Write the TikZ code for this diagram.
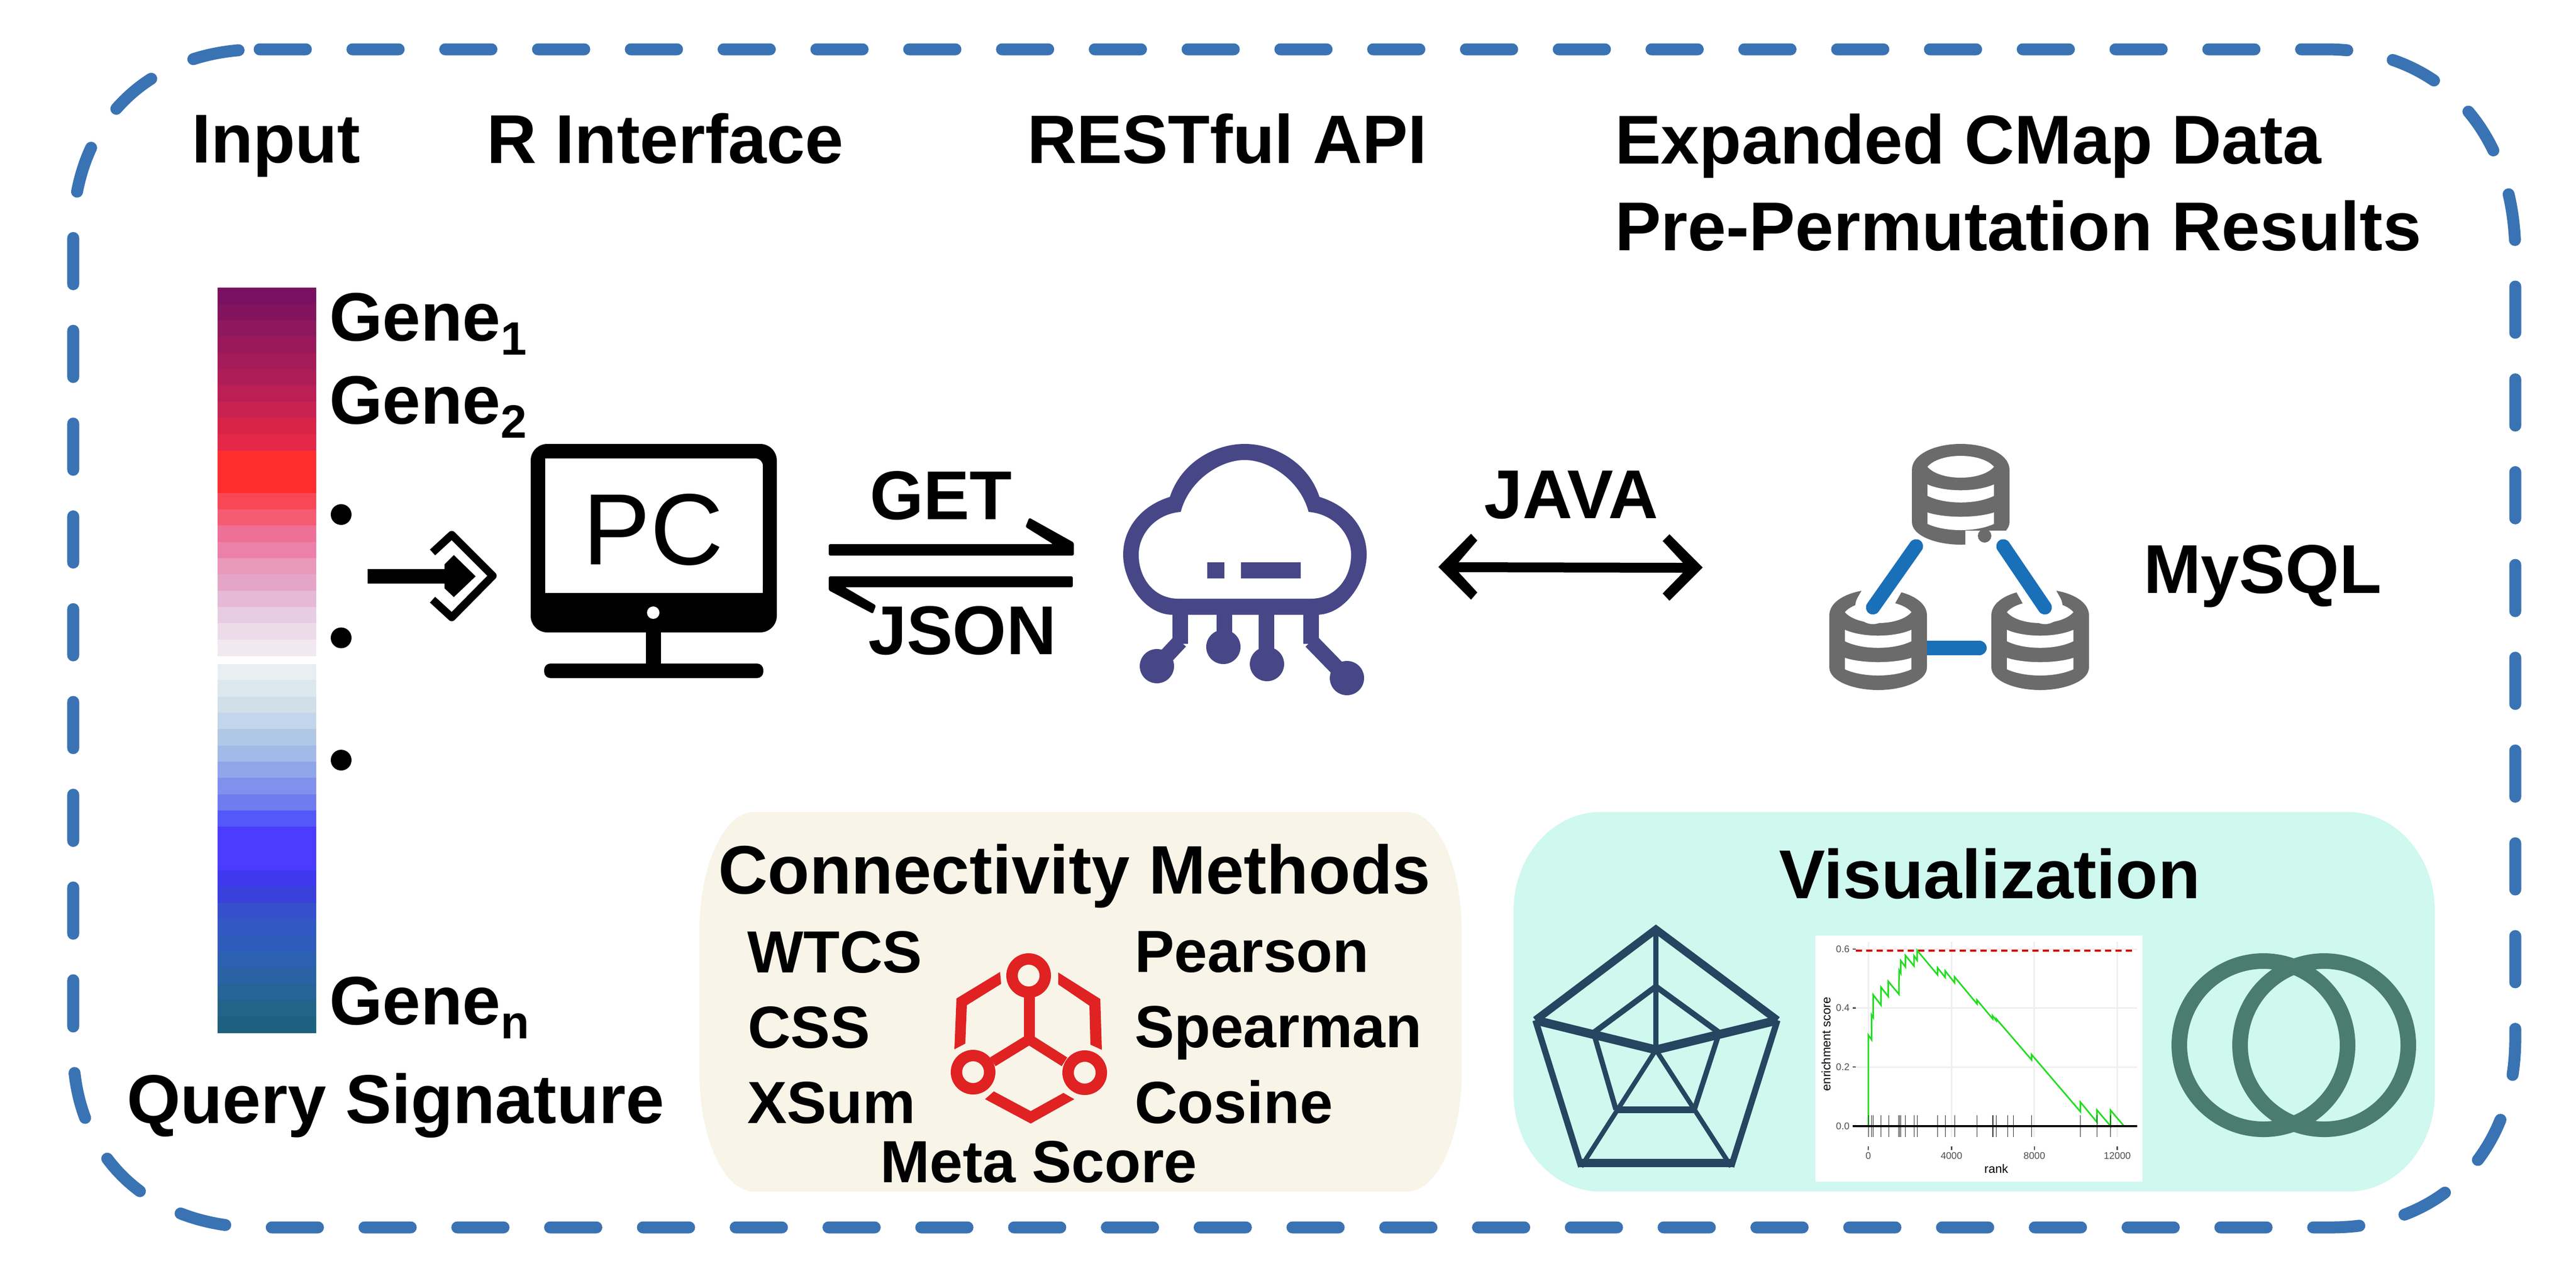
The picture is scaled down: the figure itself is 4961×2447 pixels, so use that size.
\documentclass[tikz,border=0pt]{standalone}
\usepackage{fontspec}
\setmainfont{Liberation Sans}
\definecolor{bordc}{HTML}{3A73B3}
\definecolor{cloudc}{HTML}{474787}
\definecolor{dbgray}{HTML}{6B6B6B}
\definecolor{dbblue}{HTML}{1A6FB9}
\definecolor{iconred}{HTML}{E02222}
\definecolor{radarc}{HTML}{264560}
\definecolor{vennc}{HTML}{4A7C6F}
\definecolor{panelA}{HTML}{F8F4E8}
\definecolor{panelB}{HTML}{CFF8EE}
\definecolor{gridc}{HTML}{EFEFEF}
\definecolor{tickc}{HTML}{4D4D4D}
\definecolor{greenc}{HTML}{22DD22}
\tikzset{
  lab/.style={inner sep=0pt,outer sep=0pt,anchor=base west,font=\fontsize{37.85}{45}\selectfont\bfseries,text=black},
  labc/.style={inner sep=0pt,outer sep=0pt,anchor=base west,font=\fontsize{37.56}{45}\selectfont\bfseries,text=black},
  labs/.style={inner sep=0pt,outer sep=0pt,anchor=base west,font=\fontsize{32.55}{38}\selectfont\bfseries,text=black},
  tick/.style={inner sep=0pt,outer sep=0pt,font=\fontsize{5.3}{6}\selectfont,text=tickc},
  axl/.style={inner sep=0pt,outer sep=0pt,font=\fontsize{6.7}{8}\selectfont,text=black},
}
\newcommand{\gsub}[1]{\raisebox{-0.27cm}{\fontsize{25.6}{30}\selectfont #1}}
\begin{document}
\begin{tikzpicture}[x=0.01cm,y=-0.01cm]
\useasboundingbox (0,0) rectangle (4961,2447);
\fill[white] (0,0) rectangle (4961,2447);

% dashed frame
\draw[bordc,line width=.23cm,line cap=round,dash pattern=on .89cm off .896cm]
 (500,95) -- (4480,95) .. controls (4698,95) and (4844,253) .. (4844,490)
 -- (4844,2000) .. controls (4844,2218) and (4702,2364) .. (4490,2364)
 -- (500,2364) .. controls (285,2364) and (141,2226) .. (141,2020)
 -- (141,450) .. controls (141,237) and (285,95) .. (500,95);

% heading texts
\node[lab] (tInput) at (369,313) {Input};
\node[lab] (tR) at (937,314) {R Interface};
\node[labc] (tAPI) at (1978,314) {RESTful API};
\node[lab] (tExp) at (3110,315) {Expanded CMap Data};
\node[lab] (tPre) at (3110,482) {Pre-Permutation Results};

% heat bar
\foreach \c [count=\i from 0] in {7A1160,82145F,8E185E,99195C,A41B5A,AE1D58,BB1F55,C82250,D82547,E3284A}{
  \definecolor{bandc}{HTML}{\c}
  \fill[bandc] (419,{554.4+\i*31.33}) rectangle (609,{554.4+(\i+1)*31.33+.6});}
\fill[color={rgb,255:red,255;green,45;blue,45}] (419,867.7) rectangle (609,950.4);
\foreach \c [count=\i from 0] in {F84858,F55C74,EE7096,EC80A8,E898B8,E4A6C6,E4BAD6,E8CCE2,ECDCE9,F2E8F0}{
  \definecolor{bandc}{HTML}{\c}
  \fill[bandc] (419,{949.8+\i*31.33}) rectangle (609,{949.8+(\i+1)*31.33+.6});}
\foreach \c [count=\i from 0] in {E8EEF2,DDE7EE,D0DFE8,C2D5EA,B0C8E6,A2BAE8,90A6EA,8090EC,6F7CF0,5458F8}{
  \definecolor{bandc}{HTML}{\c}
  \fill[bandc] (419,{1279+\i*31.33}) rectangle (609,{1279+(\i+1)*31.33+.6});}
\fill[color={rgb,255:red,75;green,60;blue,255}] (419,1592) rectangle (609,1676.6);
\foreach \c [count=\i from 0] in {3E38EE,3A40DC,3650CC,3258C4,2E5CBC,2C60B0,2A62A4,266498,226488,1E6080}{
  \definecolor{bandc}{HTML}{\c}
  \fill[bandc] (419,{1676+\i*31.3}) rectangle (609,{1676+(\i+1)*31.3+.6});}

\node[labc] (g1) at (634,656) {Gene\gsub{1}};
\node[labc] (g2) at (634,816) {Gene\gsub{2}};
\node[labc] (gn) at (634,1973) {Gene\gsub{n}};
\fill[black] (657,991) circle[radius=20];
\fill[black] (657,1228.5) circle[radius=20];
\fill[black] (657,1464) circle[radius=20];
\node[lab] (tQuery) at (244,2163) {Query Signature};

% import arrow
\fill[black] (708,1096) rectangle (865,1124);
\fill[black] (856,1087) -- (874,1069) -- (916,1110) -- (874,1150) -- (856,1133) -- cycle;
\draw[black,line width=.15cm,line join=round] (833,1064) -- (870,1030) -- (949,1109) -- (870,1189) -- (833,1155);

% PC monitor
\fill[black,rounded corners=.32cm] (1022,855) rectangle (1496,1218);
\fill[white,rounded corners=.14cm] (1050,883) -- (1469,883) -- (1469,1142) [sharp corners] -- (1050,1142) -- cycle;
\fill[white] (1050,1100) rectangle (1469,1142);
\fill[white] (1258,1180) circle[radius=12];
\fill[black] (1244,1210) rectangle (1273,1285);
\fill[black,rounded corners=.12cm] (1048,1278) rectangle (1470,1306);
\node[inner sep=0pt,anchor=base west,font=\fontsize{55.5}{60}\selectfont] (tPC) at (1122,1087) {PC};

% GET / JSON
\node[lab] (tGET) at (1675,1000) {GET};
\fill[black,rounded corners=.03cm] (1596,1048) -- (2028,1048) -- (1975,1015) -- (1982,997) -- (2068,1045) -- (2068,1070) -- (1596,1070) -- cycle;
\fill[black,rounded corners=.03cm] (2066,1110) -- (1596,1110) -- (1596,1137) -- (1681,1182) -- (1687,1166) -- (1627,1131) -- (2066,1131) -- cycle;
\node[lab] (tJSON) at (1672,1260) {JSON};

% cloud
\foreach \a/\b/\c/\d in {2273/1170/2273/1240,2358/1170/2358/1246,2439/1170/2439/1279,2525/1170/2525/1240}{
  \draw[cloudc,line width=.3cm] (\a,\b) -- (\c,\d);}
\draw[cloudc,line width=.3cm,line join=round] (2273,1235) -- (2228,1283);
\draw[cloudc,line width=.3cm,line join=round] (2525,1235) -- (2594,1306);
\fill[cloudc] (2228,1283) circle[radius=33];
\fill[cloudc] (2356,1246) circle[radius=33];
\fill[cloudc] (2440,1279) circle[radius=33];
\fill[cloudc] (2594,1306) circle[radius=33];
\fill[cloudc] (2253,957) .. controls (2275,890) and (2340,855) .. (2397,855) .. controls (2454,855) and (2519,890) .. (2541,957)
  .. controls (2600,975) and (2632,1020) .. (2632,1068) .. controls (2632,1120) and (2590,1184) .. (2536,1184) -- (2258,1184)
  .. controls (2204,1184) and (2163,1120) .. (2163,1068) .. controls (2163,1020) and (2195,975) .. (2253,957) -- cycle;
\fill[white] (2274,986) .. controls (2290,925) and (2350,886) .. (2397,886) .. controls (2444,886) and (2504,925) .. (2520,986)
  .. controls (2570,990) and (2602,1030) .. (2602,1068) .. controls (2602,1115) and (2570,1153) .. (2525,1153) -- (2269,1153)
  .. controls (2224,1153) and (2193,1115) .. (2193,1068) .. controls (2193,1030) and (2224,990) .. (2274,986) -- cycle;
\fill[cloudc] (2325,1083) rectangle (2358,1114);
\fill[cloudc] (2390,1083) rectangle (2505,1114);

% JAVA
\node[lab] (tJAVA) at (2858,998) {JAVA};
\fill[black] (2770,1092) -- (2833,1028) -- (2845,1041) -- (2809,1083) -- (3241,1084) -- (3202,1042) -- (3215,1029) -- (3279,1093)
  -- (3215,1157) -- (3202,1143) -- (3241,1103) -- (2809,1102) -- (2845,1141) -- (2833,1155) -- cycle;

% databases
\draw[dbblue,line width=.28cm,line cap=round] (3700,1248) -- (3812,1248);
\foreach \cx/\cy in {3776/855,3617/1135,3929/1135}{
\begin{scope}[shift={(\cx,\cy)}]
\fill[dbgray] (-94,50) .. controls (-94,20) and (-50,0) .. (0,0) .. controls (50,0) and (94,20) .. (94,50) -- (94,150)
  .. controls (94,178) and (45,194) .. (0,194) .. controls (-45,194) and (-94,178) .. (-94,150) -- cycle;
\fill[white] (-64,44) .. controls (-40,16) and (40,16) .. (64,44) .. controls (40,72) and (-40,72) .. (-64,44) -- cycle;
\fill[white] (-64,78) .. controls (-30,93) and (30,93) .. (64,78) -- (64,100) .. controls (30,117) and (-30,117) .. (-64,100) -- cycle;
\fill[white] (-64,132) .. controls (-30,143) and (30,143) .. (64,132) -- (64,154) .. controls (30,170) and (-30,170) .. (-64,154) -- cycle;
\end{scope}}
\fill[white] (3785,1022) rectangle (3880,1062);
\fill[dbgray] (3822,1032) circle[radius=13];
\draw[white,line width=.68cm,line cap=round] (3607,1168) -- (3640,1110);
\draw[white,line width=.68cm,line cap=round] (3938,1168) -- (3905,1110);
\draw[dbblue,line width=.27cm,line cap=round] (3690,1052) -- (3607,1170);
\draw[dbblue,line width=.27cm,line cap=round] (3858,1052) -- (3938,1170);
\node[lab] (tMySQL) at (4128,1142) {MySQL};

% connectivity panel
\fill[panelA] (1452,1564) -- (2710,1564) .. controls (2768,1564) and (2815,1667) .. (2815,1794) -- (2815,2065)
  .. controls (2815,2192) and (2768,2295) .. (2710,2295) -- (1452,2295) .. controls (1394,2295) and (1347,2192) .. (1347,2065)
  -- (1347,1794) .. controls (1347,1667) and (1394,1564) .. (1452,1564) -- cycle;
\node[labc] (tConn) at (1383,1721) {Connectivity Methods};
\node[labs] (mW) at (1439,1873) {WTCS};
\node[labs] (mC) at (1440,2018) {CSS};
\node[labs] (mX) at (1439,2163) {XSum};
\node[labs] (mP) at (2185,1872) {Pearson};
\node[labs] (mS) at (2185,2017) {Spearman};
\node[labs] (mO) at (2185,2163) {Cosine};
\node[labs] (mM) at (1695,2277) {Meta Score};
% red icon
\draw[iconred,line width=.22cm] (1981,1879) circle[radius=32];
\draw[iconred,line width=.22cm] (1874,2065) circle[radius=32];
\draw[iconred,line width=.22cm] (2089,2066) circle[radius=32];
\draw[iconred,line width=.21cm,line join=miter] (1982,1920) -- (1982,2002);
\draw[iconred,line width=.2cm] (1982,2002) -- (2050,2045);
\draw[iconred,line width=.2cm] (1982,2002) -- (1912,2045);
\fill[iconred] (1926,1872) -- (1928,1895) -- (1862,1936) -- (1859,2010) -- (1838,2021) -- (1842,1923) -- cycle;
\fill[iconred] (2038,1873) -- (2038,1896) -- (2098,1937) -- (2100,2012) -- (2122,2022) -- (2119,1924) -- cycle;
\fill[iconred] (1914,2102) -- (1985,2140) -- (2048,2105) -- (2069,2117) -- (1985,2164) -- (1897,2117) -- cycle;

% visualization panel
\fill[panelB] (3082,1564) -- (4522,1564) .. controls (4614,1564) and (4689,1649) .. (4689,1754) -- (4689,2107)
  .. controls (4689,2210) and (4614,2295) .. (4522,2295) -- (3082,2295) .. controls (2990,2295) and (2915,2210) .. (2915,2107)
  -- (2915,1754) .. controls (2915,1649) and (2990,1564) .. (3082,1564) -- cycle;
\node[lab] (tVis) at (3426,1730) {Visualization};

% radar
\begin{scope}[radarc]
\draw[line width=.15cm,line join=miter] (2957,1965) -- (3189,1790) -- (3423,1965);
\draw[line width=.12cm] (2957,1965) -- (3045,2247);
\draw[line width=.12cm] (3423,1965) -- (3334,2247);
\draw[line width=.16cm] (3039,2240) -- (3340,2240);
\draw[line width=.1cm] (3189,1790) -- (3189,2022);
\draw[line width=.17cm] (2957,1965) -- (3189,2022) -- (3423,1965);
\draw[line width=.09cm] (3189,2022) -- (3045,2247);
\draw[line width=.09cm] (3189,2022) -- (3334,2247);
\draw[line width=.11cm] (3069,1989) -- (3189,1900) -- (3311,1989);
\draw[line width=.1cm] (3069,1989) -- (3112,2137);
\draw[line width=.1cm] (3311,1989) -- (3263,2137);
\draw[line width=.13cm] (3112,2137) -- (3263,2137);
\end{scope}

% GSEA plot
\fill[white] (3496,1802) rectangle (4126,2276);
\begin{scope}[shift={(3450,1780)},x=0.004464cm,y=-0.003356cm]
\foreach \g in {331,689,1046,1403}{\draw[gridc,line width=.03cm] (\g,100) -- (\g,1222);}
\foreach \g in {143,480,819}{\draw[gridc,line width=.03cm] (275,\g) -- (1488,\g);}
\foreach \g in {143,480,819,1158}{\draw[tickc,line width=.025cm] (263,\g) -- (276,\g);}
\foreach \g in {331,689,1046,1403}{\draw[tickc,line width=.025cm] (\g,1275) -- (\g,1295);}
\draw[red!85!black,line width=.035cm,dash pattern=on .12cm off .08cm] (277,152) -- (1470,152);
\draw[red!85!black,line width=.03cm,dash pattern=on .12cm off .08cm] (277,1161) -- (1470,1161);
\draw[greenc,line width=.03cm,line join=miter] (331,1158) -- (331,636) -- (345,662) -- (345,520) -- (352,535) -- (352,405) -- (386,465) -- (386,362) -- (417,415) -- (417,328) -- (463,402) -- (463,333) -- (464,265) -- (471,282) -- (471,210) -- (491,245) -- (491,180) -- (528,240) -- (528,182) -- (541,207) -- (541,150) -- (629,290) -- (629,250) -- (662,305) -- (662,268) -- (702,335) -- (702,302) -- (799,457) -- (799,435) -- (866,542) -- (866,525) -- (882,553) -- (882,543) -- (1034,778) -- (1034,748) -- (1244,1075) -- (1244,1020) -- (1315,1135) -- (1315,1065) -- (1374,1158) -- (1374,1067) -- (1432,1158);
\foreach \g in {331,345,352,386,418,462,466,471,491,528,541,629,662,702,799,866,868,882,930,955,1034,1244,1315,1374}{\draw[black!85,line width=.01cm] (\g,1095) -- (\g,1222);}
\draw[black,line width=.035cm] (263,1158) -- (1488,1158);
\node[tick,anchor=base east] (y6) at (250,162) {0.6};
\node[tick,anchor=base east] (y4) at (250,500) {0.4};
\node[tick,anchor=base east] (y2) at (250,838) {0.2};
\node[tick,anchor=base east] (y0) at (250,1178) {0.0};
\node[tick,anchor=base] (x0) at (331,1347) {0};
\node[tick,anchor=base] (x4) at (689,1347) {4000};
\node[tick,anchor=base] (x8) at (1046,1347) {8000};
\node[tick,anchor=base] (x12) at (1403,1347) {12000};
\node[axl,anchor=base] (xl) at (882,1428) {rank};
\node[axl,anchor=base,rotate=90] (yl) at (168,687) {enrichment score};
\end{scope}

% venn
\draw[vennc,line width=.3cm] (4359,2013) circle[radius=162];
\draw[vennc,line width=.3cm] (4476,2013) circle[radius=162];
\end{tikzpicture}
\end{document}
